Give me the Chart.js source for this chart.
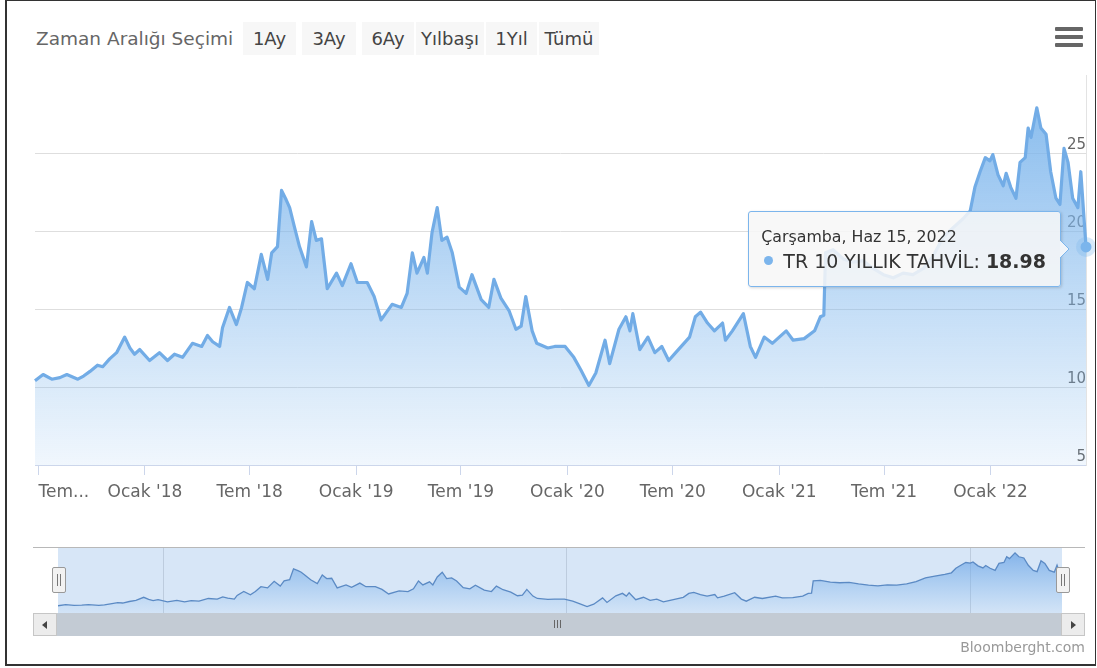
<!DOCTYPE html>
<html>
<head>
<meta charset="utf-8">
<script src="https://cdn.jsdelivr.net/npm/chart.js@4.4.1/dist/chart.umd.min.js"></script>
<style>
html,body{margin:0;padding:0;background:#fff;}
#wrap{position:relative;width:1097px;height:668px;overflow:hidden;font-family:"DejaVu Sans",sans-serif;background:#fff;}
#frame{position:absolute;left:5px;top:0;width:1091px;height:666px;border:1px solid #333;border-left-width:2px;border-bottom-width:2px;box-sizing:border-box;pointer-events:none;}
#rsLabel{position:absolute;left:36px;top:27px;font-size:18.5px;line-height:24px;color:#666;white-space:nowrap;}
.btn{position:absolute;top:22px;height:33px;line-height:33px;background:#f7f7f7;color:#444;font-size:18px;text-align:center;white-space:nowrap;}
#menu{position:absolute;left:1055px;top:27px;width:28px;}
#menu span{display:block;height:4px;background:#666;border-radius:1px;margin-bottom:4px;}
#main{position:absolute;left:0;top:0;}
#nav{position:absolute;left:0;top:540px;}
#tip{position:absolute;display:none;background:rgba(247,247,247,0.86);border:1px solid #7cb5ec;border-radius:3px;padding:15px 14px 13px 12px;box-shadow:1px 1px 3px rgba(0,0,0,0.16);white-space:nowrap;color:#333;}
#tip .t1{font-size:15.8px;line-height:20px;}
#tip .t2{font-size:19px;line-height:24px;margin-top:2px;}
#tip .dot{display:inline-block;width:9px;height:9px;border-radius:50%;background:#7cb5ec;margin:0 10px 3px 3px;vertical-align:middle;}
#tip svg{position:absolute;right:-10px;top:50%;margin-top:-9px;overflow:visible;}
#navLine{position:absolute;left:33px;top:547px;width:1052px;height:1px;background:#b8b8b8;}
.handle{position:absolute;top:567px;width:12px;height:24px;background:#f2f2f2;border:1px solid #999;border-radius:2px;}
.handle i{position:absolute;top:6px;width:1px;height:12px;background:#777;}
#sb{position:absolute;left:33px;top:613px;width:1052px;height:23px;background:#c3cbd4;}
.sbbtn{position:absolute;top:0;width:24px;height:23px;background:#ececec;border:1px solid #c6c6c6;box-sizing:border-box;}
.arrL{position:absolute;left:8px;top:7px;width:0;height:0;border-top:4px solid transparent;border-bottom:4px solid transparent;border-right:5px solid #444;}
.arrR{position:absolute;left:9px;top:7px;width:0;height:0;border-top:4px solid transparent;border-bottom:4px solid transparent;border-left:5px solid #444;}
#grip{position:absolute;left:521px;top:7px;}
#grip span{display:inline-block;width:1px;height:8px;background:#666;margin-right:2px;vertical-align:top;}
#credits{position:absolute;right:12px;top:639px;font-size:14px;line-height:16px;color:#999;}
</style>
</head>
<body>
<div id="wrap">
  <div id="rsLabel">Zaman Aralığı Seçimi</div>
  <div class="btn" style="left:243px;width:53px">1Ay</div>
  <div class="btn" style="left:302px;width:54px">3Ay</div>
  <div class="btn" style="left:362px;width:52px">6Ay</div>
  <div class="btn" style="left:416px;width:68px">Yılbaşı</div>
  <div class="btn" style="left:486px;width:51px">1Yıl</div>
  <div class="btn" style="left:539px;width:60px">Tümü</div>
  <div id="menu"><span></span><span></span><span></span></div>
  <canvas id="main" width="1097" height="505"></canvas>
  <div id="tip">
    <div class="t1"></div>
    <div class="t2"><span class="dot"></span><span class="nm"></span><b class="val"></b></div>
    <svg width="10" height="18"><polygon points="0,0 9,9 0,18" fill="#f1f5fa"/><polyline points="0,0 9,9 0,18" fill="none" stroke="#7cb5ec" stroke-width="1"/></svg>
  </div>
  <div id="navLine"></div>
  <canvas id="nav" width="1097" height="80"></canvas>
  <div class="handle" style="left:52px"><i style="left:4px"></i><i style="left:7px"></i></div>
  <div class="handle" style="left:1056px"><i style="left:4px"></i><i style="left:7px"></i></div>
  <div id="sb">
    <div class="sbbtn" style="left:0"><i class="arrL"></i></div>
    <div id="grip"><span></span><span></span><span></span></div>
    <div class="sbbtn" style="right:0"><i class="arrR"></i></div>
  </div>
  <div id="credits">Bloomberght.com</div>
  <div id="frame"></div>
</div>
<script>
// ---- data ----
const seriesName = 'TR 10 YILLIK TAHVİL';
const dates = [
 '2017-06-25','2017-07-09','2017-07-24','2017-08-07','2017-08-19','2017-09-07','2017-09-17','2017-09-28','2017-10-11','2017-10-20',
 '2017-11-01','2017-11-13','2017-11-27','2017-12-06','2017-12-14','2017-12-23','2018-01-09','2018-01-26','2018-02-09','2018-02-21',
 '2018-03-07','2018-03-24','2018-04-09','2018-04-19','2018-04-28','2018-05-10','2018-05-15','2018-05-27','2018-06-08','2018-06-17',
 '2018-06-27','2018-07-09','2018-07-21','2018-08-01','2018-08-08','2018-08-18','2018-08-25','2018-09-02','2018-09-08','2018-09-16',
 '2018-09-25','2018-10-07','2018-10-16','2018-10-24','2018-11-02','2018-11-12','2018-11-28','2018-12-08','2018-12-23','2019-01-03',
 '2019-01-20','2019-02-01','2019-02-13','2019-03-04','2019-03-20','2019-03-30','2019-04-08','2019-04-16','2019-04-28','2019-05-04',
 '2019-05-12','2019-05-21','2019-05-29','2019-06-07','2019-06-16','2019-06-28','2019-07-10','2019-07-20','2019-08-05','2019-08-18',
 '2019-08-27','2019-09-08','2019-09-22','2019-10-04','2019-10-13','2019-10-21','2019-11-01','2019-11-09','2019-11-28','2019-12-10',
 '2019-12-28','2020-01-12','2020-01-24','2020-02-07','2020-02-19','2020-03-06','2020-03-14','2020-03-30','2020-04-11','2020-04-18',
 '2020-04-23','2020-05-05','2020-05-19','2020-05-31','2020-06-12','2020-06-24','2020-07-06','2020-07-18','2020-07-30','2020-08-09',
 '2020-08-18','2020-08-30','2020-09-11','2020-09-25','2020-09-30','2020-10-12','2020-10-31','2020-11-12','2020-11-21','2020-12-06',
 '2020-12-20','2021-01-13','2021-01-25','2021-02-13','2021-03-03','2021-03-13','2021-03-19','2021-03-22','2021-04-04','2021-04-22',
 '2021-05-09','2021-05-26','2021-06-12','2021-06-30','2021-07-17','2021-08-03','2021-08-20','2021-09-07','2021-09-24','2021-10-11',
 '2021-10-28','2021-11-15','2021-11-27','2021-12-05','2021-12-14','2021-12-23','2021-12-31','2022-01-05','2022-01-14','2022-01-23',
 '2022-01-28','2022-02-05','2022-02-14','2022-02-21','2022-03-02','2022-03-07','2022-03-12','2022-03-22','2022-03-29','2022-04-07',
 '2022-04-15','2022-04-24','2022-05-01','2022-05-08','2022-05-15','2022-05-23','2022-06-01','2022-06-06','2022-06-15'
];
const yields = [
 10.4,10.8,10.5,10.6,10.8,10.5,10.7,11.0,11.4,11.3,
 11.8,12.2,13.2,12.5,12.1,12.4,11.7,12.2,11.7,12.1,
 11.9,12.8,12.6,13.3,12.9,12.6,13.8,15.1,14.0,15.1,
 16.7,16.3,18.5,16.9,18.6,19.0,22.6,22.0,21.5,20.3,
 19.0,17.7,20.6,19.4,19.5,16.3,17.3,16.5,17.9,16.7,
 16.7,15.8,14.3,15.3,15.1,16.0,18.6,17.3,18.3,17.3,
 19.9,21.5,19.4,19.6,18.6,16.4,16.0,17.2,15.6,15.1,
 16.9,15.7,14.9,13.7,13.9,15.8,13.6,12.8,12.5,12.6,
 12.6,11.9,11.1,10.1,10.9,13.0,11.5,13.7,14.5,13.6,
 14.7,12.4,13.2,12.2,12.6,11.7,12.2,12.7,13.2,14.5,
 14.8,14.1,13.6,14.1,13.0,13.6,14.7,12.6,11.9,13.2,
 12.8,13.6,13.0,13.1,13.6,14.5,14.6,18.6,18.8,18.2,
 18.0,18.1,17.6,17.2,17.0,17.3,17.2,17.6,18.4,19.6,
 20.2,20.8,21.3,22.8,23.8,24.7,24.5,24.9,23.6,22.9,
 23.7,22.8,22.1,24.4,24.7,26.6,26.0,27.9,26.6,26.2,
 23.8,22.1,21.7,25.3,24.4,22.1,21.5,23.8,18.98
];
const tickDates  = ['2017-07-01','2018-01-01','2018-07-01','2019-01-01','2019-07-01','2020-01-01','2020-07-01','2021-01-01','2021-07-01','2022-01-01'];
const tickLabels = ['Tem...',"Ocak '18","Tem '18","Ocak '19","Tem '19","Ocak '20","Tem '20","Ocak '21","Tem '21","Ocak '22"];
const yTicks = [5,10,15,20,25];
const navTickDates  = ['2018-01-01','2020-01-01','2022-01-01'];
const navTickLabels = ['2018','2020','2022'];
const dayNames = ['Pazar','Pazartesi','Salı','Çarşamba','Perşembe','Cuma','Cumartesi'];
const monNames = ['Oca','Şub','Mar','Nis','May','Haz','Tem','Ağu','Eyl','Eki','Kas','Ara'];

// ---- helpers ----
const FONT = '"DejaVu Sans", sans-serif';
const BASE = Date.UTC(2017, 6, 1);
function toDay(s){ const p = s.split('-').map(Number); return (Date.UTC(p[0], p[1]-1, p[2]) - BASE) / 864e5; }
function fmtDate(s){ const p = s.split('-').map(Number); const d = new Date(Date.UTC(p[0], p[1]-1, p[2]));
  return dayNames[d.getUTCDay()] + ', ' + monNames[p[1]-1] + ' ' + p[2] + ', ' + p[0]; }
const days = dates.map(toDay);
const tickDays = tickDates.map(toDay);
const navTickDays = navTickDates.map(toDay);
const xMin = days[0], xMax = days[days.length-1];
const LINE = '#72ace6';

function mainGrad(ctx){
  const ch = ctx.chart, a = ch.chartArea;
  if (!a) return 'rgba(124,181,236,0.4)';
  const g = ch.ctx.createLinearGradient(0, a.top, 0, a.bottom);
  g.addColorStop(0, 'rgba(124,181,236,0.95)');
  g.addColorStop(1, 'rgba(124,181,236,0.11)');
  return g;
}
function navGrad(ctx){
  const ch = ctx.chart, a = ch.chartArea;
  if (!a) return 'rgba(124,181,236,0.4)';
  const g = ch.ctx.createLinearGradient(0, a.top, 0, a.bottom);
  g.addColorStop(0, 'rgba(110,165,230,0.85)');
  g.addColorStop(1, 'rgba(124,181,236,0.05)');
  return g;
}

function renderTip(context){
  const tooltip = context.tooltip;
  const el = document.getElementById('tip');
  if (!tooltip || tooltip.opacity === 0 || !tooltip.dataPoints || !tooltip.dataPoints.length){ el.style.display = 'none'; return; }
  const dp = tooltip.dataPoints[0];
  const i = dp.dataIndex;
  el.querySelector('.t1').textContent = fmtDate(dates[i]);
  el.querySelector('.nm').textContent = dp.dataset.label + ': ';
  el.querySelector('.val').textContent = yields[i].toFixed(2);
  el.style.display = 'block';
  el.style.right = (1097 - (tooltip.caretX - 25)) + 'px';
  el.style.top = (tooltip.caretY - 36) + 'px';
}

const navBg = { id: 'navBg', beforeDraw(chart){ const a = chart.chartArea, c = chart.ctx; c.save(); c.fillStyle = '#d7e6f7'; c.fillRect(a.left, a.top, a.right - a.left, a.bottom - a.top); c.restore(); } };

const mainChart = new Chart(document.getElementById('main'), {
  type: 'line',
  data: { datasets: [{
    label: seriesName,
    data: days.map((x, i) => ({ x: x, y: yields[i] })),
    borderColor: LINE, borderWidth: 3.2, borderJoinStyle: 'round',
    pointRadius: 0, pointHitRadius: 0,
    pointHoverRadius: 5.5, pointHoverBackgroundColor: '#7cb5ec',
    pointHoverBorderColor: 'rgba(124,181,236,0.3)', pointHoverBorderWidth: 9,
    fill: 'start', backgroundColor: mainGrad, tension: 0, clip: false
  }] },
  options: {
    responsive: false, animation: false, events: [],
    layout: { padding: { left: 35, top: 75, right: 11, bottom: 0 } },
    plugins: { legend: { display: false }, tooltip: { enabled: false, external: renderTip } },
    scales: {
      x: {
        type: 'linear', min: xMin, max: xMax,
        afterBuildTicks: s => { s.ticks = tickDays.map(v => ({ value: v })).concat([{ value: xMax }]); },
        afterFit: s => { s.height = 40; },
        grid: { drawOnChartArea: false, drawTicks: true, tickLength: 10,
                color: c => (c.tick && c.tick.value === xMax) ? 'rgba(0,0,0,0)' : '#ccd6eb' },
        border: { color: '#ccd6eb' },
        ticks: { align: 'inner', autoSkip: false, maxRotation: 0, padding: 7, color: '#666',
                 font: { family: FONT, size: 17 },
                 callback: v => { const i = tickDays.indexOf(v); return i < 0 ? '' : tickLabels[i]; } }
      },
      y: {
        type: 'linear', position: 'right', min: 5, max: 30, z: 1,
        afterBuildTicks: s => { s.ticks = yTicks.map(v => ({ value: v })); },
        afterFit: s => { s.width = 0; },
        grid: { drawTicks: false, color: '#dedede' },
        border: { display: true, color: '#e3e3e3' },
        ticks: { mirror: true, padding: 0, labelOffset: -8, color: '#666',
                 font: { family: FONT, size: 15 }, callback: v => String(v) }
      }
    }
  }
});

const navChart = new Chart(document.getElementById('nav'), {
  type: 'line',
  data: { datasets: [{
    data: days.map((x, i) => ({ x: x, y: yields[i] })),
    borderColor: '#5b8ac4', borderWidth: 1.3, pointRadius: 0,
    fill: 'start', backgroundColor: navGrad, tension: 0
  }] },
  options: {
    responsive: false, animation: false, events: [],
    layout: { padding: { left: 58, right: 35, top: 8, bottom: 7 } },
    plugins: { legend: { display: false }, tooltip: { enabled: false } },
    scales: {
      x: {
        type: 'linear', min: xMin, max: xMax, z: 1,
        afterBuildTicks: s => { s.ticks = navTickDays.map(v => ({ value: v })); },
        afterFit: s => { s.height = 0; },
        grid: { drawTicks: false, color: 'rgba(140,155,175,0.35)' },
        border: { display: false },
        ticks: { align: 'start', labelOffset: 9, padding: -20, autoSkip: false, maxRotation: 0,
                 color: '#8a8a8a', font: { family: FONT, size: 17 },
                 callback: v => { const i = navTickDays.indexOf(v); return i < 0 ? '' : navTickLabels[i]; } }
      },
      y: { display: false, min: 8, max: 29.5 }
    }
  },
  plugins: [navBg]
});

const last = yields.length - 1;
mainChart.setActiveElements([{ datasetIndex: 0, index: last }]);
mainChart.tooltip.setActiveElements([{ datasetIndex: 0, index: last }], { x: 1000, y: 250 });
mainChart.draw();
</script>
</body>
</html>
